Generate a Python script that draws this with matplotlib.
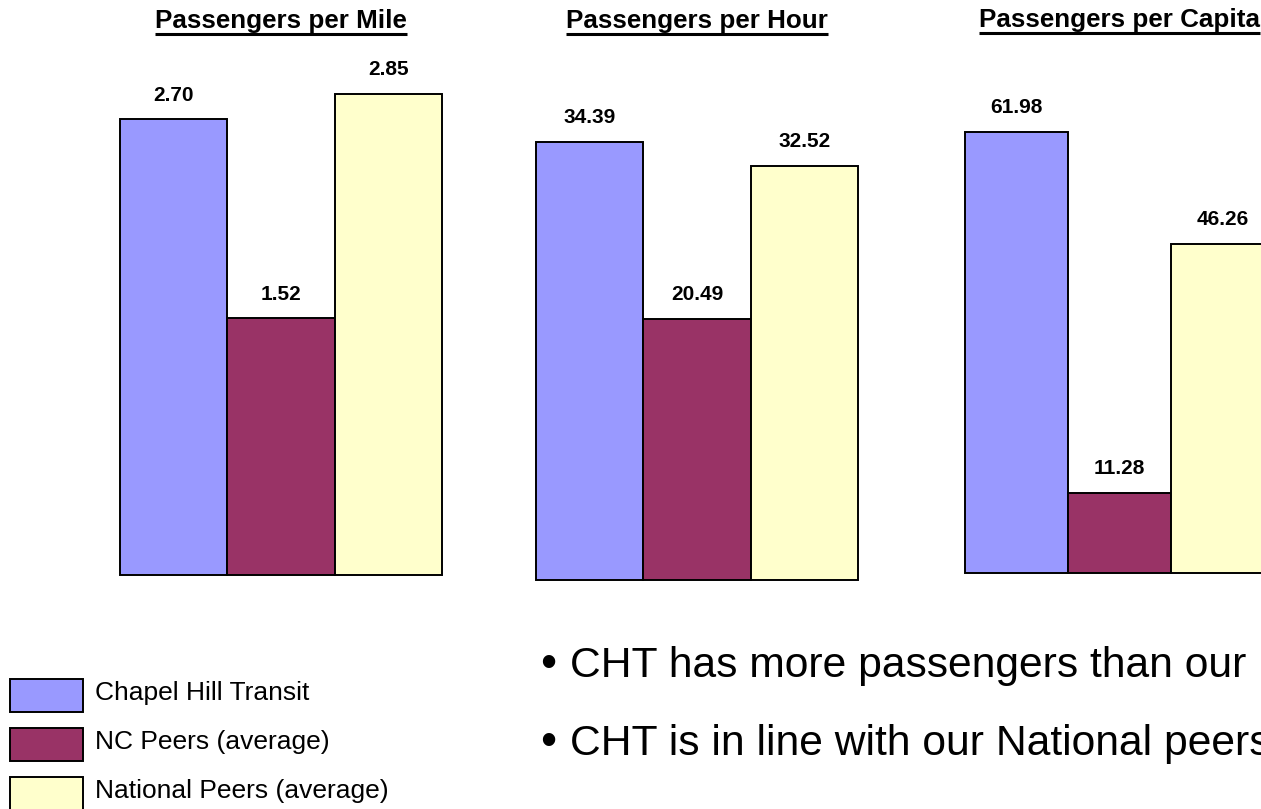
import matplotlib
matplotlib.use("Agg")
import matplotlib.pyplot as plt
from matplotlib.lines import Line2D
from matplotlib.patches import Rectangle

plt.rcParams['font.family'] = ['Liberation Sans', 'DejaVu Sans']

# ---- data ----
series = ["Chapel Hill Transit", "NC Peers (average)", "National Peers (average)"]
colors = ["#9999FF", "#993366", "#FFFFCC"]
titles = ["Passengers per Mile", "Passengers per Hour", "Passengers per Capita"]
per_mile = [2.70, 1.52, 2.85]
per_hour = [34.39, 20.49, 32.52]
per_capita = [61.98, 11.28, 46.26]
bullets = ["CHT has more passengers than our",
           "CHT is in line with our National peers"]

W, H = 1261, 809
fig = plt.figure(figsize=(W / 100, H / 100), dpi=100)


def fx(px):
    return px / W


def fy(py):
    return 1 - py / H


# panel layout in pixels: left, right, baseline, ymax (axis upper limit), title baseline
panels = [
    (per_mile, 120, 442, 575, 3.170, 28),
    (per_hour, 536, 858, 580, 42.40, 28),
    (per_capita, 965, 1274.5, 573, 74.91, 27),
]
TOP = 40

title_texts = []
for (vals, l, r, b, ymax, tb), title in zip(panels, titles):
    ax = fig.add_axes([fx(l), fy(b), (r - l) / W, (b - TOP) / H])
    bars = ax.bar(range(len(vals)), vals, width=1.0, color=colors,
                  edgecolor="black", linewidth=1.4)
    for bar in bars:
        bar.set_clip_on(False)
    ax.set_xlim(-0.5, len(vals) - 0.5)
    ax.set_ylim(0, ymax)
    ax.axis("off")
    for i, v in enumerate(vals):
        ax.annotate(f"{v:.2f}", (i, v), xytext=(0, 17.5),
                    textcoords="offset points", ha="center", va="center",
                    fontsize=15, fontweight="bold", color="black")
    t = fig.text(fx((l + r) / 2), fy(tb), title, ha="center", va="baseline",
                 fontsize=18.7, fontweight="bold", color="black")
    title_texts.append((t, tb))

# underline titles
fig.canvas.draw()
renderer = fig.canvas.get_renderer()
for t, tb in title_texts:
    bb = t.get_window_extent(renderer)
    yl = fy(tb + 5.5)
    fig.add_artist(Line2D([bb.x0 / W, bb.x1 / W], [yl, yl],
                          transform=fig.transFigure, color="black", lw=2.2,
                          solid_capstyle="butt"))

# legend
legend_rows = [679, 728, 777]
for name, c, top in zip(series, colors, legend_rows):
    fig.add_artist(Rectangle((fx(10), fy(top + 33)), 73 / W, 33 / H,
                             transform=fig.transFigure, facecolor=c,
                             edgecolor="black", linewidth=1.4))
    fig.text(fx(95), fy(top + 21), name, ha="left", va="baseline",
             fontsize=19, color="black")

# bullets
for txt, base in zip(bullets, [677, 755]):
    fig.text(fx(540), fy(base), "\u2022", ha="left", va="baseline",
             fontsize=33, color="black")
    fig.text(fx(570), fy(base), txt, ha="left", va="baseline",
             fontsize=30.7, color="black")

fig.savefig("out.png", dpi=100)
